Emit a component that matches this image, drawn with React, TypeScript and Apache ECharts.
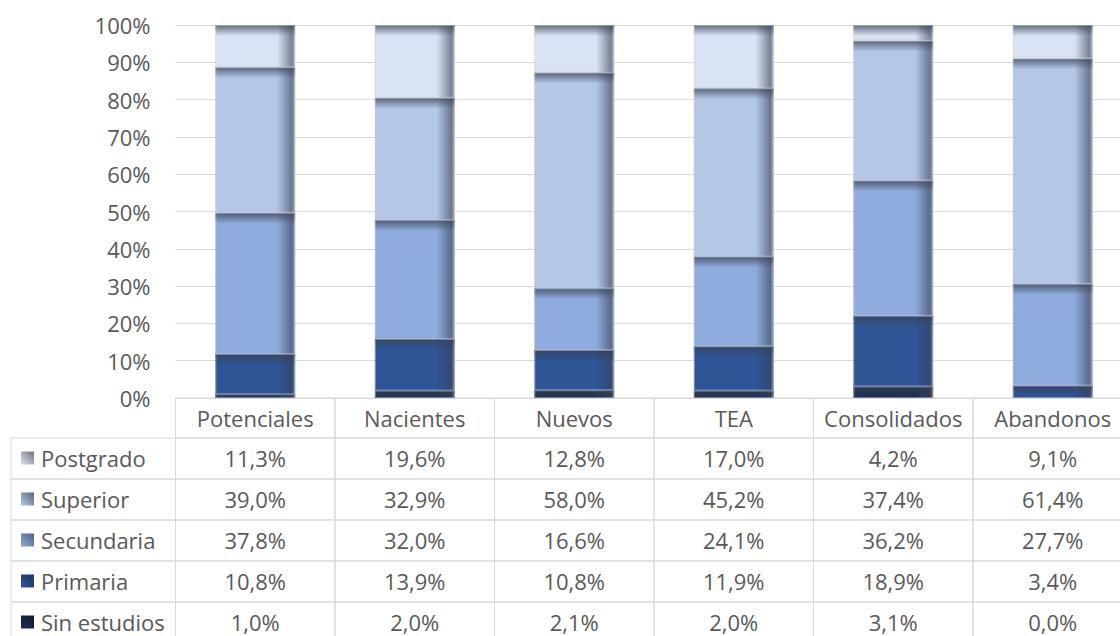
import React, { useEffect, useRef } from "react";
import * as echarts from "echarts";

const categories = ["Potenciales", "Nacientes", "Nuevos", "TEA", "Consolidados", "Abandonos"];
// bottom to top
const levelNames = ["Sin estudios", "Primaria", "Secundaria", "Superior", "Postgrado"];
const sinEstudios = [1.0, 2.0, 2.1, 2.0, 3.1, 0.0];
const primaria = [10.8, 13.9, 10.8, 11.9, 18.9, 3.4];
const secundaria = [37.8, 32.0, 16.6, 24.1, 36.2, 27.7];
const superior = [39.0, 32.9, 58.0, 45.2, 37.4, 61.4];
const postgrado = [11.3, 19.6, 12.8, 17.0, 4.2, 9.1];
const levelValues = [sinEstudios, primaria, secundaria, superior, postgrado];
const levelColors = ["#1c2d50", "#2f5597", "#8faadc", "#b4c7e7", "#dae3f3"];
const swatchDark = ["#0f1a30", "#1a3366", "#4f607e", "#5d6678", "#6e7480"];
const yTicks = [0, 100, 10];

const FONT = "'Open Sans', 'Noto Sans', sans-serif";
const TEXT_COLOR = "#595959";
const BORDER = "#d9d9d9";
const FS = 22;
const HEADER_H = 40;
const ROW_H = 41;
const TABLE_LEFT = 11;
const CHART_W = 1133;

function fmt(v: number) {
  return v.toFixed(1).replace(".", ",") + "%";
}

export default function App() {
  const ref = useRef<HTMLDivElement>(null);
  useEffect(() => {
    const chart = echarts.init(ref.current!, null, { renderer: "svg" });

    const totals = categories.map((_, c) => levelValues.reduce((s, arr) => s + arr[c], 0));

    const barSeries = levelNames.map((name, li) => {
      const data = categories.map((_, c) => {
        let lo = 0;
        for (let k = 0; k < li; k++) lo += levelValues[k][c];
        const hi = lo + levelValues[li][c];
        return [c, (lo / totals[c]) * 100, (hi / totals[c]) * 100];
      });
      return {
        type: "custom",
        name,
        data,
        clip: false,
        renderItem: (params: any, api: any) => {
          const c = api.value(0);
          const p0 = api.coord([c, api.value(1)]);
          const p1 = api.coord([c, api.value(2)]);
          const w = api.size([1, 0])[0] * 0.5;
          const x = p0[0] - w / 2;
          const y = p1[1];
          const h = p0[1] - p1[1];
          if (h < 0.3) return null;
          const topH = Math.min(11, h);
          return {
            type: "group",
            children: [
              { type: "rect", shape: { x, y, width: w, height: h }, style: { fill: levelColors[li] } },
              {
                type: "rect",
                shape: { x: x + w - 18, y, width: 18, height: h },
                style: {
                  fill: new echarts.graphic.LinearGradient(0, 0, 1, 0, [
                    { offset: 0, color: "rgba(55,65,85,0)" },
                    { offset: 0.82, color: "rgba(55,65,85,0.6)" },
                    { offset: 1, color: "rgba(150,155,165,0.6)" },
                  ]),
                },
              },
              {
                type: "rect",
                shape: { x, y, width: w, height: topH },
                style: {
                  fill: new echarts.graphic.LinearGradient(0, 0, 0, 1, [
                    { offset: 0, color: "rgba(55,65,85,0.75)" },
                    { offset: 1, color: "rgba(55,65,85,0)" },
                  ]),
                },
              },
              {
                type: "rect",
                shape: { x: x + 0.5, y: y + 0.5, width: w - 1, height: h - 1 },
                style: { fill: "none", stroke: "rgba(200,205,212,0.5)", lineWidth: 1 },
              },
            ],
          };
        },
        z: 3,
      };
    });

    // table: rows top to bottom
    const rowOrder = [4, 3, 2, 1, 0];
    const tableData: number[][] = [];
    for (let c = 0; c < categories.length; c++) tableData.push([c, -1]);
    for (let r = 0; r < rowOrder.length; r++) {
      for (let c = -1; c < categories.length; c++) tableData.push([c, r]);
    }

    const tableSeries = {
      type: "custom",
      name: "table",
      data: tableData,
      clip: false,
      silent: true,
      z: 2,
      renderItem: (params: any, api: any) => {
        const c = api.value(0);
        const r = api.value(1);
        const origin = api.coord([0, 0]);
        const cw = api.size([1, 0])[0];
        const y0 = origin[1];
        let top: number, h: number;
        if (r < 0) {
          top = y0;
          h = HEADER_H;
        } else {
          top = y0 + HEADER_H + r * ROW_H;
          h = ROW_H;
        }
        let left: number, width: number;
        if (c < 0) {
          left = TABLE_LEFT;
          width = origin[0] - cw / 2 - TABLE_LEFT;
        } else {
          const cx = api.coord([c, 0])[0];
          left = cx - cw / 2;
          width = cw;
        }
        const children: any[] = [
          {
            type: "rect",
            shape: { x: left, y: top, width, height: h },
            style: { fill: "none", stroke: BORDER, lineWidth: 1 },
          },
        ];
        if (r >= 0) {
          const li = rowOrder[r];
          const ty = top + h / 2 - 1;
          if (c < 0) {
            children.push({
              type: "rect",
              shape: { x: 21, y: top + h / 2 - 7, width: 13, height: 13 },
              style: {
                fill: new echarts.graphic.LinearGradient(0, 1, 1, 0, [
                  { offset: 0, color: levelColors[li] },
                  { offset: 1, color: swatchDark[li] },
                ]),
              },
            });
            children.push({
              type: "text",
              style: {
                x: 41,
                y: ty,
                text: levelNames[li],
                font: `${FS}px ${FONT}`,
                fill: TEXT_COLOR,
                align: "left",
                verticalAlign: "middle",
              },
            });
          } else {
            children.push({
              type: "text",
              style: {
                x: left + width / 2,
                y: ty,
                text: fmt(levelValues[li][c]),
                font: `${FS}px ${FONT}`,
                fill: TEXT_COLOR,
                align: "center",
                verticalAlign: "middle",
              },
            });
          }
        }
        return { type: "group", children };
      },
    };

    chart.setOption({
      animation: false,
      grid: { left: 175.5, top: 25, width: 957, height: 373, containLabel: false },
      xAxis: {
        type: "category",
        data: categories,
        axisLine: { show: false },
        axisTick: { show: false },
        axisLabel: {
          fontSize: FS,
          fontFamily: FONT,
          color: TEXT_COLOR,
          margin: 20,
          verticalAlign: "middle",
          interval: 0,
        },
      },
      yAxis: {
        type: "value",
        min: yTicks[0],
        max: yTicks[1],
        interval: yTicks[2],
        axisLine: { show: false },
        axisTick: { show: false },
        axisLabel: {
          formatter: "{value}%",
          fontSize: FS,
          fontFamily: FONT,
          color: TEXT_COLOR,
          margin: 25,
        },
        splitLine: { lineStyle: { color: BORDER, width: 1 } },
      },
      series: [...barSeries, tableSeries],
    });
    return () => chart.dispose();
  }, []);
  return (
    <div
      style={{ position: "fixed", left: 0, top: 0, width: 1120, height: 636, overflow: "hidden", background: "#fff" }}
    >
      <div ref={ref} style={{ width: CHART_W, height: 636 }} />
    </div>
  );
}
